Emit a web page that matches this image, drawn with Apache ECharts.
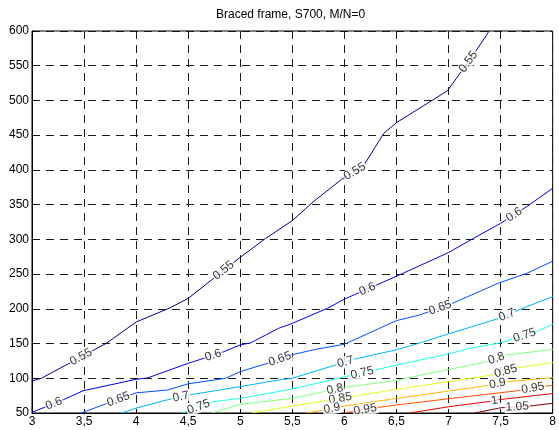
<!DOCTYPE html>
<html><head><meta charset="utf-8">
<script src="https://cdn.jsdelivr.net/npm/echarts@6/dist/echarts.min.js"></script>
<style>html,body{margin:0;padding:0;background:#fff}#c{width:559px;height:430px}</style>
</head><body><div id="c"></div>
<script>
// contour levels
const levels = ['0.55','0.6','0.65','0.7','0.75','0.8','0.85','0.9','0.95','1','1.05'];
// contour polylines [x, y]
const c055 = [[3,96],[3.09,100],[3.71,150],[4.0,181],[4.32,201],[4.5,215],[4.99,273],[5.24,301],[5.5,327],[5.70,354],[5.97,386],[6.18,405],[6.38,453],[6.5,468],[6.99,514],[7.10,537],[7.24,566],[7.39,600]];
const c060 = [[3,51],[3.30,69],[3.49,82],[4.0,98.5],[4.11,100.5],[4.5,121.5],[4.83,137.5],[5.0,148],[5.10,151],[5.37,172],[5.5,179],[5.84,201],[6.0,214],[6.32,235],[6.56,251],[7.0,281],[7.24,301.5],[7.5,323],[7.75,347],[8.0,373.5]];
const c065 = [[3.47,50],[4.0,79],[4.30,83],[4.5,92],[4.86,100],[5.0,109.5],[5.26,121.5],[5.5,134],[5.72,141.5],[6.0,149],[6.5,183],[6.72,191],[7.04,208],[7.48,237],[7.75,251],[8.0,268.5]];
const c070 = [[3.86,50],[4.0,57],[4.30,69],[4.51,76],[5.0,88],[5.37,97.5],[5.5,100],[6.11,128],[6.5,141],[6.73,151],[7.0,164],[7.48,186],[7.75,203],[8.0,217.5]];
const c075 = [[4.44,50],[4.73,66],[5.0,71],[5.5,84.5],[6.0,102],[6.30,112],[6.5,119],[7.0,135],[7.2,143],[7.5,151],[7.86,168],[8.0,177.5]];
const c080 = [[4.73,50],[5.0,62.5],[5.5,71],[6.0,87],[6.5,97],[6.72,104],[7.0,112.5],[7.37,124],[7.56,133.5],[8.0,141.5]];
const c085 = [[5.11,50],[5.5,60],[6.0,72],[6.5,84],[7.0,95],[7.43,105],[7.66,115],[8.0,122.5]];
const c090 = [[5.64,50],[6.0,60],[6.5,71],[7.0,81.5],[7.39,90],[7.56,95],[8.0,101]];
const c095 = [[6.0,50],[6.32,58],[6.5,61.5],[7.0,70.5],[7.66,82],[7.94,89],[8.0,89.5]];
const c100 = [[6.63,50],[7.0,59],[7.39,66.5],[7.5,69.5],[8.0,78]];
const c105 = [[7.25,50],[7.5,57.5],[7.78,60],[8.0,64]];
const contours = [c055,c060,c065,c070,c075,c080,c085,c090,c095,c100,c105];
// x positions of contour labels
const lx055 = [3.47,4.84,6.10,7.19];
const lx060 = [3.21,4.74,6.22,7.63];
const lx065 = [3.83,5.38,6.92];
const lx070 = [4.43,6.01,7.56];
const lx075 = [4.60,6.17,7.73];
const lx080 = [5.91,7.46];
const lx085 = [5.96,7.55];
const lx090 = [5.88,7.47];
const lx095 = [6.20,7.81];
const lx100 = [7.44];
const lx105 = [7.66];
const labelXs = [lx055,lx060,lx065,lx070,lx075,lx080,lx085,lx090,lx095,lx100,lx105];
// axis ticks
const xTicks = {min:3, max:8, step:0.5};
const yTicks = {min:50, max:600, step:50};
const titleText = 'Braced frame, S700, M/N=0';

const colors = ['#000090','#0000e6','#004dff','#00b3ff','#1affe6','#80ff80','#e6ff1a','#ffb300','#ff4d00','#e60000','#800000'];
const FONT = '"Liberation Sans", Arial, sans-serif';

const chart = echarts.init(document.getElementById('c'), null, {renderer:'canvas'});
const dash = {color:'#1a1a1a', width:1, type:[8,6]};
const series = contours.map((c,i)=>({
  type:'line', data:c, showSymbol:false, symbol:'none', animation:false,
  lineStyle:{color:colors[i], width:1}, z:2, silent:true
}));
const option = {
  animation:false,
  backgroundColor:'#fff',
  title:{text:titleText, left:211, top:4, textStyle:{fontFamily:FONT, fontSize:12, fontWeight:'normal', color:'#000'}},
  grid:{left:32, right:3, top:31, bottom:17, show:true, borderColor:'#000', borderWidth:1, backgroundColor:'transparent'},
  xAxis:{type:'value', min:xTicks.min, max:xTicks.max, interval:xTicks.step,
    axisLine:{lineStyle:{color:'#000'}}, axisTick:{inside:true, length:4, lineStyle:{color:'#000'}},
    splitLine:{show:true, lineStyle:dash},
    axisLabel:{fontFamily:FONT, fontSize:12, color:'#000', margin:3, formatter:v=>String(v).replace('.',',')}},
  yAxis:{type:'value', min:yTicks.min, max:yTicks.max, interval:yTicks.step,
    axisLine:{show:true, lineStyle:{color:'#000'}}, axisTick:{show:true, inside:true, length:4, lineStyle:{color:'#000'}},
    splitLine:{show:true, lineStyle:dash},
    axisLabel:{fontFamily:FONT, fontSize:12, color:'#000', margin:3}},
  series:series
};
chart.setOption(option);

function interpY(c, x){
  for(let k=0;k<c.length-1;k++){
    if(x>=c[k][0] && x<=c[k+1][0]){
      const t=(x-c[k][0])/(c[k+1][0]-c[k][0]);
      return {y:c[k][1]+t*(c[k+1][1]-c[k][1]), a:c[k], b:c[k+1]};
    }
  }
  return {y:c[c.length-1][1], a:c[c.length-2], b:c[c.length-1]};
}
const labelData=[];
labelXs.forEach((xs,i)=>{
  xs.forEach(x=>{
    const r=interpY(contours[i],x);
    const p1=chart.convertToPixel({gridIndex:0}, r.a);
    const p2=chart.convertToPixel({gridIndex:0}, r.b);
    const ang=Math.atan2(-(p2[1]-p1[1]), p2[0]-p1[0])*180/Math.PI;
    labelData.push({value:[x,r.y], name:levels[i], label:{rotate:ang}});
  });
});
series.push({type:'scatter', data:labelData, symbolSize:0, z:5, silent:true,
  label:{show:true, position:'inside', formatter:p=>p.name, fontFamily:FONT, fontSize:12, color:'#000',
    backgroundColor:'#fff', padding:[0,1]}});
chart.setOption({series:series});
</script></body></html>
